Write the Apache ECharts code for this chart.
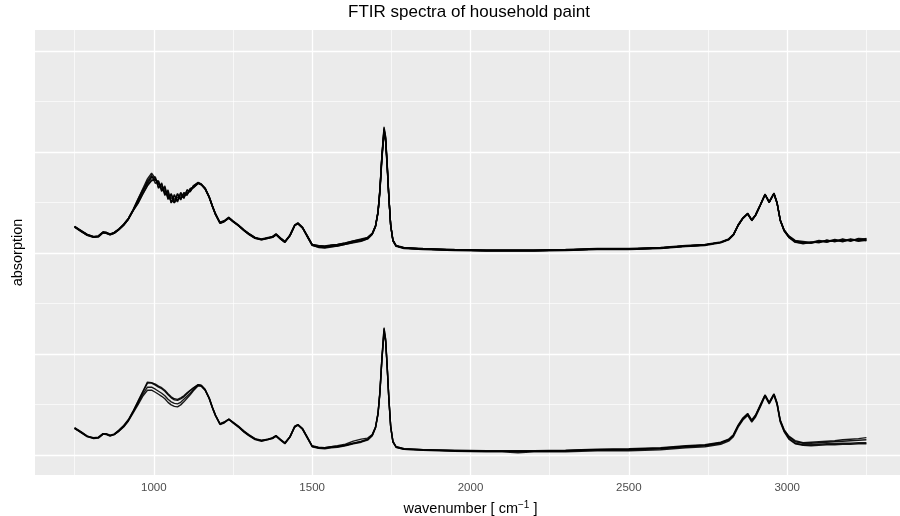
<!DOCTYPE html>
<html>
<head>
<meta charset="utf-8">
<title>FTIR spectra of household paint</title>
<script src="https://cdn.jsdelivr.net/npm/echarts@6.0.0/dist/echarts.min.js"></script>
<style>
  html, body { margin: 0; height: 100%; background: #fff; }
  #main { width: 900px; height: 516px; }
</style>
</head>
<body>
<div id="main"></div>
<script type="text/javascript">
// shared x grid (cm^-1), denser around the peaks
var wavenumber = [750,770,790,810,825,840,850,862,875,890,
  905,920,935,950,965,980,993,1005,1015,1025,
  1035,1045,1055,1065,1075,1085,1095,1105,1115,1125,
  1140,1150,1162,1175,1185,1195,1209,1222,1237,1250,
  1267,1285,1300,1320,1340,1361,1375,1386,1400,1414,
  1430,1445,1455,1470,1485,1500,1520,1540,1560,1580,
  1605,1630,1655,1675,1690,1700,1708,1714,1720,1727,
  1732,1737,1742,1748,1755,1765,1790,1850,1950,2050,
  2100,2150,2200,2300,2400,2500,2600,2680,2740,2790,
  2815,2830,2845,2860,2875,2888,2900,2915,2930,2943,
  2958,2968,2978,2990,3005,3025,3050,3075,3100,3125,
  3150,3175,3200,3225,3250];

// upper group of spectra
var paintA1 = [.452,.444,.436,.432,.433,.441,.440,.437,.440,.447,
  .456,.468,.485,.503,.522,.540,.551,.546,.538,.532,
  .524,.516,.509,.507,.510,.513,.515,.520,.525,.531,
  .539,.536,.528,.511,.493,.477,.460,.463,.470,.463,
  .455,.445,.438,.430,.427,.430,.432,.437,.429,.422,
  .435,.455,.459,.450,.433,.416,.413,.412,.414,.415,
  .418,.422,.425,.429,.438,.453,.481,.524,.588,.647,
  .627,.574,.513,.455,.425,.414,.410,.408,.406,.405,
  .405,.405,.405,.406,.408,.408,.410,.414,.416,.421,
  .427,.436,.455,.469,.478,.465,.475,.495,.516,.501,
  .518,.499,.465,.445,.432,.423,.420,.420,.422,.424,
  .424,.425,.425,.426,.426];
var paintA2 = [.453,.445,.437,.433,.434,.442,.441,.438,.441,.448,
  .457,.469,.486,.506,.527,.547,.558,.548,.530,.537,
  .516,.522,.500,.514,.503,.519,.508,.525,.522,.533,
  .540,.537,.529,.512,.494,.478,.461,.464,.471,.464,
  .456,.446,.439,.431,.428,.431,.433,.438,.430,.423,
  .436,.456,.460,.451,.434,.417,.415,.414,.416,.417,
  .420,.424,.427,.430,.439,.454,.482,.527,.592,.650,
  .631,.578,.515,.456,.426,.415,.411,.409,.407,.406,
  .406,.406,.406,.407,.409,.409,.411,.415,.417,.422,
  .428,.437,.456,.470,.479,.466,.476,.496,.517,.502,
  .519,.500,.466,.446,.434,.425,.423,.421,.425,.423,
  .427,.424,.428,.425,.429];
var paintA3 = [.451,.443,.435,.431,.432,.440,.439,.436,.439,.446,
  .455,.467,.484,.499,.517,.534,.545,.545,.542,.524,
  .530,.508,.516,.499,.517,.505,.520,.514,.528,.529,
  .538,.535,.527,.510,.492,.476,.459,.462,.469,.462,
  .454,.444,.437,.429,.426,.429,.431,.436,.428,.421,
  .434,.454,.458,.449,.432,.415,.411,.410,.412,.414,
  .417,.421,.424,.428,.437,.452,.480,.520,.582,.640,
  .622,.569,.511,.454,.424,.413,.409,.407,.405,.404,
  .404,.404,.404,.405,.407,.407,.409,.413,.415,.420,
  .426,.435,.454,.468,.477,.464,.474,.494,.515,.500,
  .517,.498,.464,.444,.431,.421,.419,.422,.420,.426,
  .422,.427,.423,.428,.424];
var paintA4 = [.452,.444,.436,.432,.433,.441,.440,.437,.440,.447,
  .456,.468,.485,.503,.521,.543,.554,.538,.543,.522,
  .533,.506,.518,.501,.518,.506,.519,.516,.527,.531,
  .539,.536,.528,.511,.493,.477,.460,.463,.470,.463,
  .455,.445,.438,.430,.427,.430,.432,.437,.429,.422,
  .435,.455,.459,.450,.433,.417,.414,.413,.415,.416,
  .419,.423,.426,.430,.438,.453,.481,.525,.590,.645,
  .629,.576,.514,.455,.425,.414,.410,.408,.406,.405,
  .405,.405,.405,.406,.408,.408,.410,.414,.416,.421,
  .427,.436,.455,.469,.478,.465,.475,.495,.516,.501,
  .518,.499,.465,.445,.433,.424,.421,.419,.423,.422,
  .425,.423,.426,.424,.427];
var paintA5 = [.453,.444,.437,.432,.434,.441,.441,.437,.441,.447,
  .457,.468,.486,.507,.525,.537,.550,.551,.528,.539,
  .514,.525,.499,.516,.501,.520,.509,.525,.521,.533,
  .539,.536,.528,.511,.493,.477,.460,.463,.470,.463,
  .455,.445,.438,.430,.427,.430,.432,.437,.429,.422,
  .435,.455,.459,.450,.432,.415,.412,.411,.413,.414,
  .417,.420,.423,.428,.437,.452,.479,.522,.585,.638,
  .620,.570,.512,.455,.425,.414,.410,.408,.406,.405,
  .405,.405,.405,.406,.408,.408,.410,.414,.416,.421,
  .427,.436,.455,.469,.478,.465,.475,.495,.516,.501,
  .518,.499,.465,.446,.433,.422,.418,.421,.421,.425,
  .423,.428,.424,.429,.428];
var paintA6 = [.451,.443,.435,.431,.432,.440,.439,.436,.439,.446,
  .455,.467,.484,.498,.516,.533,.543,.546,.536,.528,
  .520,.513,.504,.500,.506,.510,.512,.517,.523,.530,
  .538,.535,.527,.510,.492,.476,.459,.462,.469,.462,
  .454,.444,.437,.429,.426,.429,.431,.436,.428,.421,
  .434,.454,.458,.449,.434,.416,.413,.413,.415,.417,
  .420,.424,.428,.431,.439,.454,.482,.526,.589,.643,
  .625,.573,.513,.455,.425,.414,.410,.408,.406,.405,
  .405,.405,.405,.406,.408,.408,.410,.414,.416,.421,
  .427,.436,.455,.469,.478,.465,.475,.495,.516,.501,
  .518,.499,.465,.444,.431,.423,.422,.420,.424,.421,
  .426,.422,.427,.423,.425];

// lower group of spectra
var paintB1 = [.053,.045,.037,.033,.034,.042,.041,.038,.041,.048,
  .057,.069,.086,.106,.125,.144,.143,.140,.136,.133,
  .128,.121,.115,.111,.110,.113,.117,.123,.128,.133,
  .139,.137,.129,.112,.094,.078,.061,.064,.071,.064,
  .056,.046,.039,.031,.028,.031,.033,.038,.030,.023,
  .036,.056,.060,.051,.034,.017,.014,.013,.015,.016,
  .019,.023,.026,.030,.039,.054,.082,.125,.189,.250,
  .229,.175,.114,.056,.026,.015,.011,.009,.007,.006,
  .006,.004,.006,.006,.008,.008,.010,.014,.016,.021,
  .027,.036,.055,.069,.078,.065,.075,.095,.116,.101,
  .118,.099,.065,.046,.031,.022,.019,.018,.019,.020,
  .020,.021,.021,.022,.022];
var paintB2 = [.054,.046,.037,.034,.035,.042,.042,.039,.041,.049,
  .058,.070,.087,.105,.124,.142,.142,.138,.134,.131,
  .126,.119,.113,.109,.108,.111,.115,.121,.127,.132,
  .139,.138,.130,.113,.095,.079,.062,.065,.071,.065,
  .057,.047,.040,.032,.029,.031,.034,.038,.031,.024,
  .036,.057,.060,.052,.035,.018,.015,.014,.016,.017,
  .019,.023,.027,.031,.040,.055,.083,.126,.190,.252,
  .230,.176,.115,.057,.027,.016,.012,.010,.008,.007,
  .007,.007,.007,.008,.010,.010,.012,.016,.018,.023,
  .029,.038,.057,.071,.080,.067,.077,.097,.118,.103,
  .120,.101,.067,.047,.033,.023,.020,.020,.021,.022,
  .022,.023,.023,.024,.024];
var paintB3 = [.052,.045,.036,.033,.034,.041,.041,.038,.040,.047,
  .056,.068,.085,.102,.120,.134,.134,.130,.126,.122,
  .117,.110,.105,.102,.101,.104,.110,.116,.122,.129,
  .138,.137,.129,.112,.094,.078,.061,.064,.070,.064,
  .056,.046,.039,.031,.028,.030,.033,.037,.030,.023,
  .035,.055,.059,.051,.034,.017,.014,.014,.016,.018,
  .021,.027,.031,.033,.040,.054,.081,.123,.186,.245,
  .226,.173,.113,.056,.026,.016,.012,.010,.008,.007,
  .007,.007,.007,.008,.010,.011,.013,.017,.019,.024,
  .030,.039,.058,.072,.081,.068,.078,.098,.118,.103,
  .120,.102,.068,.049,.036,.026,.023,.023,.024,.025,
  .026,.027,.028,.029,.030];
var paintB4 = [.053,.044,.036,.032,.033,.041,.040,.037,.040,.047,
  .055,.067,.083,.099,.116,.128,.128,.124,.120,.116,
  .111,.104,.099,.096,.095,.099,.105,.112,.119,.127,
  .137,.136,.128,.111,.093,.077,.060,.063,.070,.063,
  .055,.045,.038,.030,.027,.030,.032,.037,.029,.022,
  .035,.055,.059,.050,.033,.016,.013,.012,.014,.015,
  .018,.022,.025,.029,.038,.053,.080,.122,.185,.243,
  .224,.172,.112,.055,.025,.015,.011,.010,.009,.008,
  .008,.008,.008,.009,.011,.012,.014,.018,.020,.025,
  .031,.040,.059,.073,.082,.069,.079,.099,.119,.104,
  .121,.103,.069,.050,.037,.028,.024,.025,.026,.027,
  .028,.030,.031,.032,.034];

var spectra = [paintA1, paintA2, paintA3, paintA4, paintA5, paintA6,
  paintB1, paintB2, paintB3, paintB4];

// tick / grid positions
var xTicks = [1000, 1500, 2000, 2500, 3000];
var xMinor = [750, 1250, 1750, 2250, 2750, 3250];
var yMajor = [0, 0.2, 0.4, 0.6, 0.8];
var yMinor = [0.1, 0.3, 0.5, 0.7];

function toPairs(vals) {
  var out = [];
  for (var i = 0; i < wavenumber.length; i++) {
    out.push([wavenumber[i], vals[i]]);
  }
  return out;
}

// white panel grid (ggplot style), drawn under the spectra
var gridLines = [];
xTicks.forEach(function (v) { gridLines.push({ xAxis: v, lineStyle: { width: 1.3 } }); });
xMinor.forEach(function (v) { gridLines.push({ xAxis: v, lineStyle: { width: 0.65 } }); });
yMajor.forEach(function (v) { gridLines.push({ yAxis: v, lineStyle: { width: 1.3 } }); });
yMinor.forEach(function (v) { gridLines.push({ yAxis: v, lineStyle: { width: 0.65 } }); });

var series = [{
  type: 'line',
  name: 'grid',
  data: [],
  z: 1,
  silent: true,
  markLine: {
    z: 1,
    silent: true,
    animation: false,
    symbol: ['none', 'none'],
    label: { show: false },
    emphasis: { disabled: true },
    lineStyle: { color: '#ffffff', type: 'solid', opacity: 1 },
    data: gridLines
  }
}];

spectra.forEach(function (s, i) {
  series.push({
    type: 'line',
    name: 'spectrum ' + (i + 1),
    data: toPairs(s),
    showSymbol: false,
    symbol: 'none',
    z: 3,
    lineStyle: { color: '#000000', width: 1.4, opacity: 0.9 },
    emphasis: { disabled: true }
  });
});

var myChart = echarts.init(document.getElementById('main'), null, { renderer: 'canvas' });
var option = {
  animation: false,
  backgroundColor: '#ffffff',
  textStyle: { fontFamily: 'Liberation Sans, Arial, sans-serif' },
  title: {
    text: 'FTIR spectra of household paint',
    left: 348,
    top: 4,
    padding: 0,
    textStyle: { fontSize: 17, fontWeight: 'normal', color: '#000000' }
  },
  grid: {
    left: 35,
    top: 30,
    width: 871,
    height: 445,
    show: true,
    backgroundColor: '#EBEBEB',
    borderWidth: 0,
    outerBoundsMode: 'none'
  },
  tooltip: { show: false },
  xAxis: {
    type: 'value',
    min: 625,
    max: 3375,
    name: '{t|wavenumber [ cm}{s|\u22121}{t| ]}',
    nameLocation: 'middle',
    nameGap: 25,
    nameTextStyle: {
      rich: {
        t: { fontSize: 14.5, color: '#000000', lineHeight: 18 },
        s: { fontSize: 10, color: '#000000', lineHeight: 10, verticalAlign: 'top' }
      }
    },
    axisLine: { show: false },
    axisTick: { show: false },
    splitLine: { show: false },
    axisLabel: {
      customValues: xTicks,
      formatter: function (v) { return String(v); },
      color: '#4D4D4D',
      fontSize: 11.5,
      margin: 7
    }
  },
  yAxis: {
    type: 'value',
    min: -0.04,
    max: 0.842,
    name: 'absorption',
    nameLocation: 'middle',
    nameRotate: 90,
    nameGap: 10,
    nameTextStyle: { fontSize: 14.5, color: '#000000' },
    axisLine: { show: false },
    axisTick: { show: false },
    axisLabel: { show: false },
    splitLine: { show: false }
  },
  series: series
};
myChart.setOption(option);
</script>
</body>
</html>
